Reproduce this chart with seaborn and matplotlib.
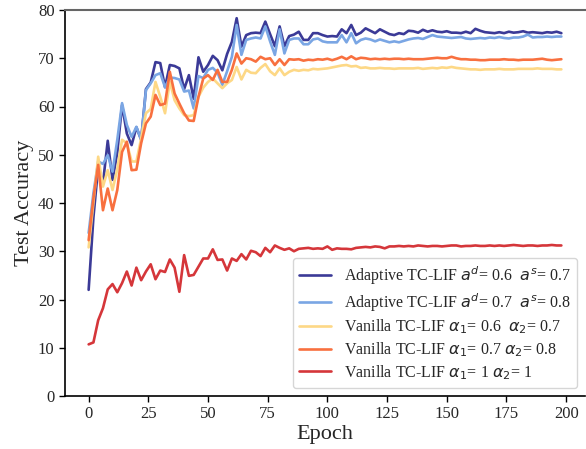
import numpy as np
import pandas as pd
import matplotlib
matplotlib.use("Agg")
import matplotlib.pyplot as plt
import seaborn as sns

# ---------------------------------------------
# DATA (every 2 epochs)
# ---------------------------------------------
epochs = list(range(0, 200, 2))

adaptive_06_07 = [
    22.0, 37.0, 47.5, 44.1, 52.9, 44.8, 50.5, 60.3, 54.4, 52.0,
    55.7, 53.1, 63.6, 65.0, 69.2, 69.0, 64.0, 68.6, 68.4, 67.9,
    63.6, 66.5, 61.6, 70.2, 67.2, 68.6, 70.5, 69.6, 67.5, 70.9,
    73.4, 78.3, 72.4, 74.8, 75.2, 75.3, 75.2, 77.6, 75.0, 72.5,
    76.6, 72.5, 74.6, 74.9, 75.5, 73.8, 73.8, 75.2, 75.2, 74.8,
    74.5, 74.6, 74.5, 76.0, 75.2, 76.9, 74.8, 75.3, 76.2, 75.7,
    75.2, 76.0, 75.5, 75.0, 74.8, 75.2, 75.0, 75.7, 75.6, 75.3,
    75.9, 75.5, 75.8, 75.5, 75.4, 75.6, 75.3, 75.3, 75.2, 75.5,
    75.2, 76.1, 75.7, 75.4, 75.3, 75.2, 75.4, 75.2, 75.5, 75.3,
    75.4, 75.6, 75.3, 75.4, 75.3, 75.2, 75.4, 75.3, 75.5, 75.2,
]

adaptive_07_08 = [
    33.8, 42.0, 48.6, 48.1, 49.9, 46.5, 53.1, 60.7, 56.2, 53.7,
    55.8, 53.1, 63.4, 64.8, 66.5, 66.9, 64.0, 66.0, 65.9, 65.6,
    63.1, 63.3, 59.6, 66.3, 65.9, 67.6, 68.0, 67.0, 64.5, 67.3,
    70.3, 76.9, 70.7, 73.8, 74.1, 74.3, 74.1, 76.6, 73.5, 70.7,
    76.0, 71.0, 73.8, 74.1, 74.1, 72.9, 72.9, 73.9, 74.1, 73.5,
    73.3, 73.3, 73.3, 74.8, 73.3, 75.2, 73.1, 73.8, 74.1, 73.9,
    73.5, 73.9, 73.6, 73.3, 73.5, 73.3, 73.6, 73.9, 74.1, 74.2,
    74.0, 74.4, 74.8, 74.5, 74.4, 74.3, 74.2, 74.3, 74.4, 74.1,
    74.0, 74.1, 74.2, 74.1, 74.3, 74.2, 74.4, 74.2, 74.1, 74.3,
    74.3, 74.5, 74.9, 74.3, 74.4, 74.4, 74.5, 74.4, 74.5, 74.5,
]

vanilla_06_07 = [
    30.8, 40.0, 49.6, 43.4, 46.8, 42.7, 47.0, 53.1, 52.4, 48.6,
    48.6, 53.4, 58.6, 59.5, 65.1, 62.0, 58.6, 65.1, 61.3, 59.6,
    58.2, 58.0, 58.2, 62.0, 63.9, 65.1, 65.8, 64.8, 63.8, 64.8,
    65.5, 68.2, 65.6, 67.6, 67.0, 66.9, 68.0, 68.8, 67.3, 66.5,
    67.9, 66.5, 67.2, 67.6, 67.4, 67.6, 67.5, 67.8, 67.7, 67.8,
    67.9, 68.1, 68.3, 68.5, 68.6, 68.3, 68.4, 68.0, 68.1, 67.9,
    67.9, 68.0, 67.9, 67.9, 67.8, 67.9, 67.9, 67.9, 67.9, 68.0,
    67.8, 67.9, 68.0, 67.9, 68.1, 68.0, 68.2, 68.0, 67.9, 67.8,
    67.7, 67.7, 67.6, 67.7, 67.7, 67.7, 67.8, 67.7, 67.7, 67.7,
    67.8, 67.8, 67.8, 67.8, 67.9, 67.8, 67.8, 67.8, 67.7, 67.7,
]

vanilla_07_08 = [
    32.3, 41.0, 47.9, 38.5, 43.0, 38.5, 42.7, 50.6, 52.7, 46.8,
    46.9, 52.4, 56.5, 57.9, 62.4, 60.3, 60.6, 67.2, 62.7, 60.6,
    58.6, 57.1, 57.0, 62.0, 65.8, 66.5, 65.5, 67.6, 65.1, 65.1,
    67.6, 71.0, 68.9, 70.0, 69.8, 69.3, 70.3, 69.8, 70.0, 68.6,
    69.8, 68.6, 69.8, 69.7, 69.8, 69.5, 69.7, 69.6, 69.8, 69.7,
    69.9, 69.6, 69.9, 70.3, 69.8, 70.4, 69.8, 70.1, 70.0, 69.8,
    69.9, 69.8, 69.9, 69.8, 69.9, 69.9, 69.8, 69.9, 69.8, 69.8,
    69.8, 69.9, 70.0, 70.1, 70.0, 70.0, 70.3, 70.0, 69.8, 69.8,
    69.7, 69.7, 69.6, 69.6, 69.7, 69.7, 69.7, 69.8, 69.7, 69.7,
    69.6, 69.7, 69.7, 69.7, 69.8, 69.9, 69.7, 69.6, 69.7, 69.8,
]

vanilla_1_1 = [
    10.7, 11.1, 15.7, 18.2, 22.1, 23.2, 21.5, 23.4, 25.8, 22.9,
    26.6, 24.0, 25.8, 27.3, 24.2, 26.0, 25.7, 28.3, 26.6, 21.6,
    29.2, 24.9, 25.1, 26.8, 28.5, 28.5, 30.4, 28.2, 28.3, 26.0,
    28.5, 28.0, 29.4, 28.3, 30.1, 29.8, 29.0, 30.7, 29.8, 31.2,
    30.7, 30.3, 30.6, 30.0, 30.5, 30.6, 30.7, 30.5, 30.6, 30.5,
    31.0, 30.3, 30.6, 30.5, 30.5, 30.4, 30.7, 30.8, 30.9, 30.8,
    31.0, 30.9, 30.6, 31.0, 31.0, 31.1, 31.0, 31.1, 31.0, 31.2,
    31.1, 31.0, 31.1, 31.1, 31.0, 31.1, 31.2, 31.2, 31.0, 31.1,
    31.1, 31.2, 31.1, 31.1, 31.2, 31.1, 31.2, 31.1, 31.2, 31.3,
    31.2, 31.1, 31.2, 31.2, 31.1, 31.2, 31.2, 31.3, 31.2, 31.2,
]

labels = [
    r"Adaptive TC-LIF $a^d$= 0.6  $a^s$= 0.7",
    r"Adaptive TC-LIF $a^d$= 0.7  $a^s$= 0.8",
    r"Vanilla TC-LIF $\alpha_1$= 0.6  $\alpha_2$= 0.7",
    r"Vanilla TC-LIF $\alpha_1$= 0.7 $\alpha_2$= 0.8",
    r"Vanilla TC-LIF $\alpha_1$= 1 $\alpha_2$= 1",
]
colors = ["#3b3a97", "#7aa6e4", "#fdd886", "#f8703f", "#d5363a"]

series = [adaptive_06_07, adaptive_07_08, vanilla_06_07, vanilla_07_08, vanilla_1_1]
df = pd.concat(
    [pd.DataFrame({"Epoch": epochs, "acc": vals, "model": lab})
     for vals, lab in zip(series, labels)],
    ignore_index=True,
)

# ---------------------------------------------
# PLOT
# ---------------------------------------------
sns.set_style("ticks")
plt.rcParams["font.family"] = ["Liberation Serif", "DejaVu Serif"]
plt.rcParams["mathtext.fontset"] = "dejavusans"

fig = plt.figure(figsize=(5.86, 4.49), dpi=100)
ax = fig.add_axes([65 / 586, 53 / 449, 520 / 586, 386 / 449])

sns.lineplot(data=df, x="Epoch", y="acc", hue="model", hue_order=labels,
             palette=colors, linewidth=1.9, errorbar=None, ax=ax)

ax.set_ylim(0, 80)
ax.set_xlim(-9.9, 207.9)
ax.set_xticks(range(0, 201, 25))
ax.set_yticks(range(0, 81, 10))
ax.tick_params(axis="both", labelsize=12, length=4, width=1, color="black")
ax.set_xlabel("Epoch", fontsize=16, labelpad=2)
ax.set_ylabel("Test Accuracy", fontsize=16, labelpad=3)

ax.spines["right"].set_visible(False)
ax.spines["top"].set_color("#666666")
ax.spines["top"].set_linewidth(1.5)
for s in ["left", "bottom"]:
    ax.spines[s].set_color("black")
    ax.spines[s].set_linewidth(1.2)

leg = ax.legend(loc="lower right", fontsize=11.5, handlelength=2.0,
                labelspacing=0.25)
for line in leg.get_lines():
    line.set_linewidth(1.9)

fig.savefig("out.png", dpi=100)
